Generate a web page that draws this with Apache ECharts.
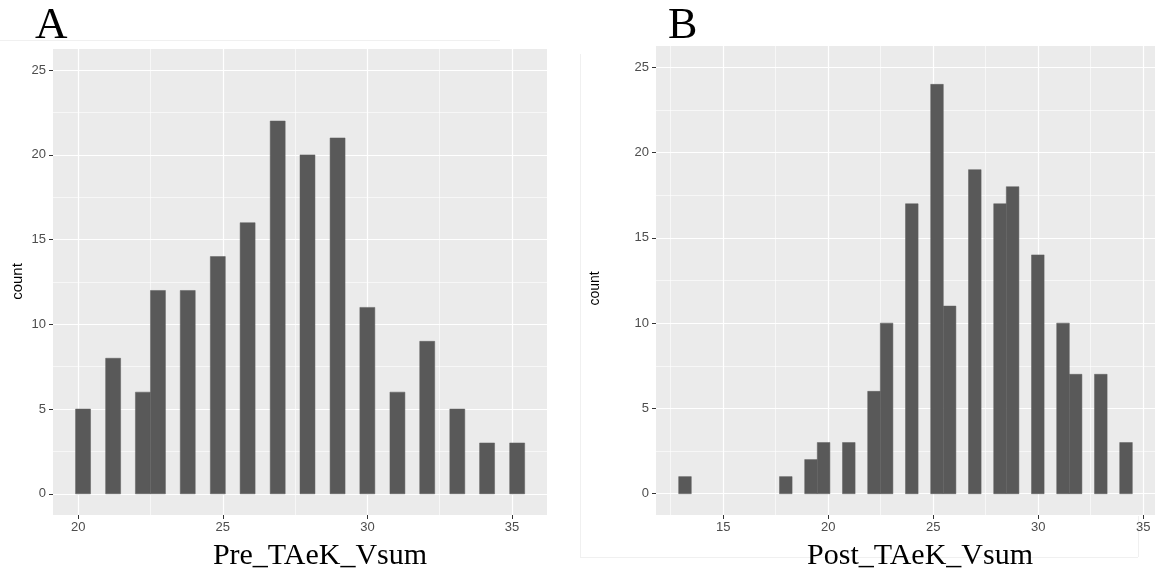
<!DOCTYPE html>
<html>
<head>
<meta charset="utf-8">
<title>Pre / Post TAeK Vsum histograms</title>
<script src="https://cdn.jsdelivr.net/npm/echarts@6/dist/echarts.min.js"></script>
<style>
  html, body { margin: 0; padding: 0; background: #fff; }
  #chart { width: 1156px; height: 574px; }
</style>
</head>
<body>
<div id="chart"></div>
<script>
// histogram A: left edge of each drawn bin and its count (ggplot, 30 bins)
var preBinLeft = [19.91, 20.95, 21.98, 22.50, 23.53, 24.57, 25.60, 26.64, 27.67, 28.71, 29.74, 30.78, 31.81, 32.85, 33.88, 34.92];
var preCount = [5, 8, 6, 12, 12, 14, 16, 22, 20, 21, 11, 6, 9, 5, 3, 3];
var preBinWidth = 0.5175;

// histogram B
var postBinLeft = [12.88, 17.68, 18.88, 19.48, 20.68, 21.88, 22.48, 23.68, 24.88, 25.48, 26.68, 27.88, 28.48, 29.68, 30.88, 31.48, 32.68, 33.88];
var postCount = [1, 1, 2, 3, 3, 6, 10, 17, 24, 11, 19, 17, 18, 14, 10, 7, 7, 3];
var postBinWidth = 0.6;

// tick labels
var countTicks = [0, 5, 10, 15, 20, 25];
var countMinor = [2.5, 7.5, 12.5, 17.5, 22.5];
var preTicks = [20, 25, 30, 35];
var preMinor = [22.5, 27.5, 32.5];
var postTicks = [15, 20, 25, 30, 35];
var postMinor = [12.5, 17.5, 22.5, 27.5, 32.5];

var chart = echarts.init(document.getElementById("chart"));

function toBins(left, count, width) {
  return left.map(function (x, i) {
    return [x, x + width, count[i]];
  });
}

function renderBar(params, api) {
  var top = api.coord([api.value(0), api.value(2)]);
  var base = api.coord([api.value(1), 0]);
  return {
    type: "rect",
    shape: { x: top[0], y: top[1], width: base[0] - top[0], height: base[1] - top[1] },
    style: { fill: "#595959", stroke: "#5f5f5f", lineWidth: 0.5 },
  };
}

var labelStyle = { color: "#4d4d4d", fontSize: 13, fontFamily: "Liberation Sans, Arial, sans-serif" };

// main axis: ticks + labels + major white grid lines
function majorAxis(grid, min, max, ticks, pos) {
  return {
    type: "value",
    gridIndex: grid,
    position: pos,
    min: min,
    max: max,
    // ggplot has no axis line
    axisLine: { show: false, onZero: false },
    axisTick: { show: true, inside: false, length: 4, customValues: ticks, lineStyle: { color: "#333", width: 1 } },
    axisLabel: Object.assign({ customValues: ticks, margin: pos === "bottom" ? 6 : 7 }, labelStyle),
    splitLine: { show: true, lineStyle: { color: "#ffffff", width: 1.2 } },
    z: 1,
  };
}

// second axis on the same grid only for the thin minor lines
function minorAxis(grid, min, max, ticks, pos) {
  return {
    type: "value",
    gridIndex: grid,
    position: pos,
    min: min,
    max: max,
    axisLine: { show: false, onZero: false },
    axisTick: { show: false, customValues: ticks },
    axisLabel: { show: false, customValues: ticks },
    splitLine: { show: true, lineStyle: { color: "#ffffff", width: 0.6 } },
    z: 0,
  };
}

var option = {
  animation: false,
  backgroundColor: "#ffffff",
  grid: [
    { left: 53, top: 49, width: 494, height: 466, show: true, backgroundColor: "#ebebeb", borderWidth: 0 },
    { left: 656, top: 46, width: 499, height: 469, show: true, backgroundColor: "#ebebeb", borderWidth: 0 },
  ],
  xAxis: [
    majorAxis(0, 19.13, 36.21, preTicks, "bottom"),
    minorAxis(0, 19.13, 36.21, preMinor, "top"),
    majorAxis(1, 11.8, 35.56, postTicks, "bottom"),
    minorAxis(1, 11.8, 35.56, postMinor, "top"),
  ],
  yAxis: [
    majorAxis(0, -1.25, 26.25, countTicks, "left"),
    minorAxis(0, -1.25, 26.25, countMinor, "right"),
    majorAxis(1, -1.25, 26.25, countTicks, "left"),
    minorAxis(1, -1.25, 26.25, countMinor, "right"),
  ],
  series: [
    {
      name: "Pre_TAeK_Vsum",
      type: "custom",
      xAxisIndex: 0,
      yAxisIndex: 0,
      renderItem: renderBar,
      encode: { x: [0, 1], y: 2 },
      data: toBins(preBinLeft, preCount, preBinWidth),
      z: 5,
    },
    {
      name: "Post_TAeK_Vsum",
      type: "custom",
      xAxisIndex: 2,
      yAxisIndex: 2,
      renderItem: renderBar,
      encode: { x: [0, 1], y: 2 },
      data: toBins(postBinLeft, postCount, postBinWidth),
      z: 5,
    },
  ],
  graphic: [
    // faint borders of the pasted panels
    { type: "line", z: -10, shape: { x1: 0, y1: 40.5, x2: 500, y2: 40.5 }, style: { stroke: "#f0f0f0", lineWidth: 1 } },
    { type: "line", z: -10, shape: { x1: 580.5, y1: 54, x2: 580.5, y2: 557 }, style: { stroke: "#f0f0f0", lineWidth: 1 } },
    { type: "line", z: -10, shape: { x1: 580, y1: 557.5, x2: 1138, y2: 557.5 }, style: { stroke: "#f0f0f0", lineWidth: 1 } },
    { type: "line", z: -10, shape: { x1: 1138.5, y1: 516, x2: 1138.5, y2: 557 }, style: { stroke: "#f0f0f0", lineWidth: 1 } },
    // panel letters
    { type: "text", left: 35, top: 4, style: { text: "A", font: '45px "Liberation Serif", "Times New Roman", serif', fill: "#000" } },
    { type: "text", left: 668, top: 4, style: { text: "B", font: '44px "Liberation Serif", "Times New Roman", serif', fill: "#000" } },
    // y axis titles
    { type: "text", x: 18, y: 281.5, rotation: Math.PI / 2, style: { text: "count", font: '15px "Liberation Sans", Arial, sans-serif', fill: "#000", textAlign: "center", textVerticalAlign: "middle" } },
    { type: "text", x: 595.5, y: 288.5, rotation: Math.PI / 2, style: { text: "count", font: '14px "Liberation Sans", Arial, sans-serif', fill: "#000", textAlign: "center", textVerticalAlign: "middle" } },
    // x axis titles
    { type: "text", x: 320, y: 556, style: { text: "Pre_TAeK_Vsum", font: '30px "Liberation Serif", "Times New Roman", serif', fill: "#000", textAlign: "center", textVerticalAlign: "middle" } },
    { type: "text", x: 920, y: 556, style: { text: "Post_TAeK_Vsum", font: '30px "Liberation Serif", "Times New Roman", serif', fill: "#000", textAlign: "center", textVerticalAlign: "middle" } },
  ],
};

chart.setOption(option);
</script>
</body>
</html>
